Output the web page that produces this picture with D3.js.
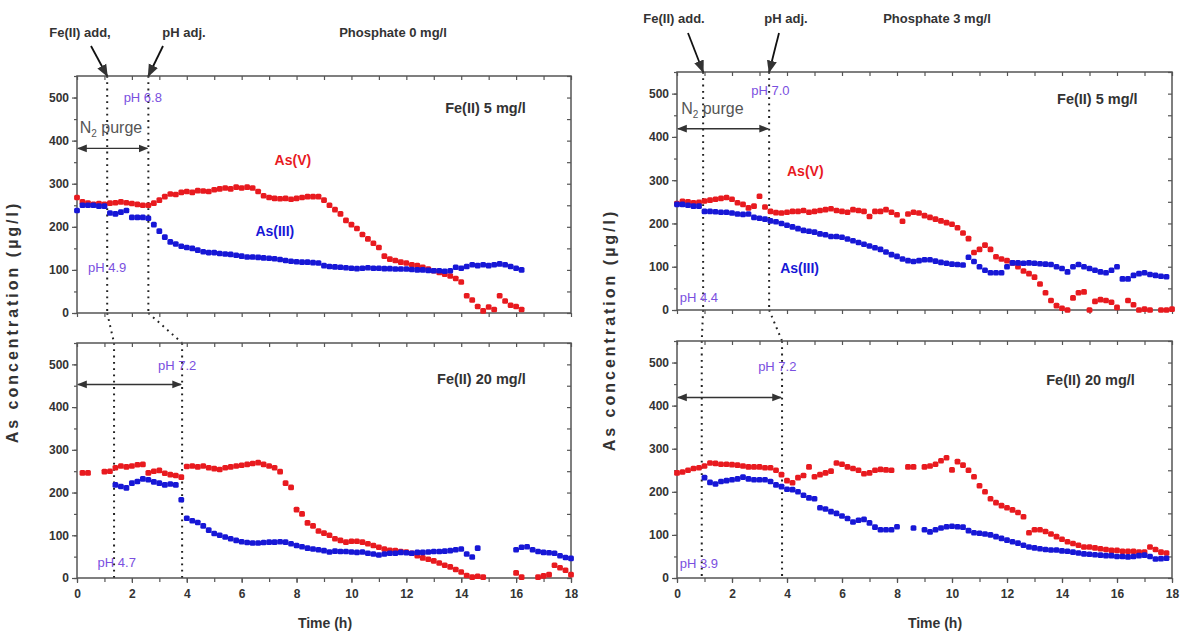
<!DOCTYPE html>
<html>
<head>
<meta charset="utf-8">
<script src="https://cdn.jsdelivr.net/npm/d3@7"></script>
<style>
  body { margin: 0; background: #fff; }
  svg { font-family: "Liberation Sans", Arial, sans-serif; }
  .tick text { font-weight: bold; fill: #333; font-size: 12px; }
  .domain, .tick line { stroke: #555; }
</style>
</head>
<body>
<svg id="chart" width="1187" height="635"></svg>
<script>
// sampling times (h) shared by every series, null = no point
var hours = [0.0,0.2,0.4,0.6,0.8,1.0,1.2,1.4,1.6,1.8,2.0,2.2,2.4,2.6,2.8,3.0,3.2,3.4,3.6,3.8,
  4.0,4.2,4.4,4.6,4.8,5.0,5.2,5.4,5.6,5.8,6.0,6.2,6.4,6.6,6.8,7.0,7.2,7.4,7.6,7.8,
  8.0,8.2,8.4,8.6,8.8,9.0,9.2,9.4,9.6,9.8,10.0,10.2,10.4,10.6,10.8,11.0,11.2,11.4,11.6,11.8,
  12.0,12.2,12.4,12.6,12.8,13.0,13.2,13.4,13.6,13.8,14.0,14.2,14.4,14.6,14.8,15.0,15.2,15.4,15.6,15.8,
  16.0,16.2,16.4,16.6,16.8,17.0,17.2,17.4,17.6,17.8,18.0];

var xTicks = [0,2,4,6,8,10,12,14,16,18];
var yTicks = [0,100,200,300,400,500];

// phosphate 0, Fe(II) 5 mg/l
var p0fe5AsV = [268,258,255,252,254,252,255,256,258,256,254,252,250,250,255,262,270,276,275,280,
  282,280,284,283,282,286,288,290,288,292,290,292,290,282,272,268,266,265,266,264,
  266,268,270,270,270,262,250,240,230,215,205,196,182,172,162,152,132,125,122,118,
  116,112,110,106,102,98,94,90,86,80,72,40,30,15,5,14,8,40,28,18,
  15,8,null,null,null,null,null,null,null,null,null];
var p0fe5AsIII = [238,250,250,250,248,248,232,230,234,238,222,222,222,220,205,190,176,165,160,155,
  152,150,146,142,140,140,138,137,136,134,132,130,130,129,128,127,126,124,122,120,
  119,118,118,117,116,110,108,107,106,105,104,103,104,105,104,104,103,103,102,102,
  102,101,100,100,99,98,98,97,98,106,104,108,112,110,112,110,112,114,112,108,
  104,100,null,null,null,null,null,null,null,null,null];

// phosphate 0, Fe(II) 20 mg/l
var p0fe20AsV = [null,246,246,null,null,249,250,258,262,260,262,265,266,246,250,252,245,242,240,236,
  261,262,260,262,258,256,254,258,260,262,264,266,268,270,266,262,258,249,222,212,
  160,150,129,122,110,105,100,92,88,84,86,86,84,80,76,72,68,65,64,62,
  61,58,52,47,44,40,35,30,26,20,14,6,2,4,2,null,null,null,null,null,
  12,2,null,null,2,5,8,30,24,18,8];
var p0fe20AsIII = [null,null,null,null,null,null,null,218,214,211,222,226,232,230,225,222,218,220,218,183,
  140,134,130,122,112,104,100,96,92,88,85,83,82,82,83,84,84,85,84,80,
  76,73,70,68,66,64,61,63,62,62,61,60,61,58,56,54,56,58,58,60,
  59,58,60,60,61,62,62,63,64,66,68,56,49,70,null,null,null,null,null,null,
  66,72,73,66,62,60,59,58,52,48,46];

// phosphate 3, Fe(II) 5 mg/l
var p3fe5AsV = [246,251,250,248,249,252,254,256,258,260,256,248,244,236,240,263,238,228,225,224,
  226,228,228,230,226,228,230,232,234,230,228,226,232,230,228,216,228,228,232,226,
  220,205,222,226,224,218,214,210,206,202,198,190,178,165,133,140,150,140,123,118,
  114,109,100,90,84,76,60,40,22,10,4,0,28,40,42,0,20,24,22,18,
  6,null,22,12,0,2,0,null,0,0,2];
var p3fe5AsIII = [244,244,242,240,240,228,228,227,226,226,224,222,221,222,214,212,210,206,204,200,
  196,192,188,184,182,180,176,174,170,170,168,164,160,156,152,148,144,140,134,128,
  124,118,114,112,114,116,116,113,110,108,106,105,104,122,112,100,92,86,86,86,
  100,109,109,108,109,108,107,106,105,100,96,88,100,105,100,96,92,88,86,92,
  100,72,72,80,84,86,82,80,78,77,null];

// phosphate 3, Fe(II) 20 mg/l
var p3fe20AsV = [244,246,250,254,256,260,267,266,264,264,263,262,260,258,258,258,256,256,250,240,
  226,221,233,238,258,235,240,244,248,267,264,258,254,250,242,244,250,252,251,250,
  null,null,258,258,null,258,260,264,272,279,251,270,262,250,235,214,200,184,175,168,
  163,158,152,142,105,112,112,108,102,96,90,84,80,76,72,72,70,68,66,64,
  64,62,62,62,60,60,72,66,60,58,null];
var p3fe20AsIII = [null,null,null,null,null,233,222,218,224,226,228,230,234,230,228,228,228,224,216,212,
  206,205,200,192,186,184,163,160,154,150,144,138,130,134,136,128,118,112,112,112,
  119,null,null,116,null,112,107,112,116,119,120,119,118,110,105,104,102,100,96,92,
  88,84,81,76,72,70,68,66,65,65,63,62,60,58,56,55,54,53,52,52,
  50,50,49,50,52,53,50,44,45,46,null];

var red = "#e81a1f", blue = "#1717d6", purple = "#7a4fe0", ink = "#333";

var panels = [
  {x0: 77, x1: 571, y0: 76, y1: 313, asV: p0fe5AsV, asIII: p0fe5AsIII, fe: 1.1, ph: 2.6, purge: 382, bottomLabels: false,
   texts: [["pH 6.8", 1.7, 490, purple, 13, "start"], ["pH 4.9", 0.4, 95, purple, 13, "start"],
           ["Fe(II) 5 mg/l", 16.35, 463, ink, 14.5, "end"], ["As(V)", 7.2, 343, red, 14, "start"],
           ["As(III)", 6.5, 178, blue, 14, "start"]], purgeText: [0.1, 417]},
  {x0: 77, x1: 571, y0: 343, y1: 578, asV: p0fe20AsV, asIII: p0fe20AsIII, fe: 1.35, ph: 3.83, purge: 453, bottomLabels: true,
   texts: [["pH 7.2", 2.95, 486, purple, 13, "start"], ["pH 4.7", 0.75, 26, purple, 13, "start"],
           ["Fe(II) 20 mg/l", 16.35, 453, ink, 14.5, "end"]]},
  {x0: 677, x1: 1172, y0: 72, y1: 310, asV: p3fe5AsV, asIII: p3fe5AsIII, fe: 0.95, ph: 3.35, purge: 419, bottomLabels: false,
   texts: [["pH 7.0", 2.7, 498, purple, 13, "start"], ["pH 4.4", 0.1, 19, purple, 13, "start"],
           ["Fe(II) 5 mg/l", 16.75, 477, ink, 14.5, "end"], ["As(V)", 4.0, 309, red, 14, "start"],
           ["As(III)", 3.75, 86, blue, 14, "start"]], purgeText: [0.15, 453]},
  {x0: 677, x1: 1172, y0: 341, y1: 578, asV: p3fe20AsV, asIII: p3fe20AsIII, fe: 0.9, ph: 3.82, purge: 419, bottomLabels: true,
   texts: [["pH 7.2", 2.95, 481, purple, 13, "start"], ["pH 3.9", 0.1, 23, purple, 13, "start"],
           ["Fe(II) 20 mg/l", 16.65, 449, ink, 14.5, "end"]]}
];

var svg = d3.select("#chart");
var defs = svg.append("defs");
defs.append("marker").attr("id", "head").attr("viewBox", "0 0 10 10").attr("refX", 9).attr("refY", 5)
  .attr("markerWidth", 7).attr("markerHeight", 7).attr("orient", "auto-start-reverse")
  .append("path").attr("d", "M0,1L10,5L0,9z").attr("fill", ink);

panels.forEach(function(p) {
  p.x = d3.scaleLinear().domain([0, 18]).range([p.x0, p.x1]);
  p.y = d3.scaleLinear().domain([0, 550]).range([p.y1, p.y0]);
});

// dotted event lines, running across the gap between the two panels
function dotted(x1, y1, x2, y2) {
  svg.append("line").attr("x1", x1).attr("y1", y1).attr("x2", x2).attr("y2", y2)
    .attr("stroke", "#222").attr("stroke-width", 2).attr("stroke-dasharray", "1.8,4.5");
}
[[panels[0], panels[1]], [panels[2], panels[3]]].forEach(function(pair) {
  var a = pair[0], b = pair[1];
  ["fe", "ph"].forEach(function(k) {
    dotted(a.x(a[k]), a.y0, a.x(a[k]), a.y1);
    dotted(a.x(a[k]), a.y1, b.x(b[k]), b.y0);
    dotted(b.x(b[k]), b.y0, b.x(b[k]), b.y1);
  });
});

panels.forEach(function(p) {
  var g = svg.append("g");
  var xMinor = d3.range(0, 19, 1), yMinor = d3.range(0, 551, 50);

  // frame
  g.append("rect").attr("x", p.x0).attr("y", p.y0).attr("width", p.x1 - p.x0).attr("height", p.y1 - p.y0)
    .attr("fill", "none").attr("stroke", "#555").attr("stroke-width", 1.5);

  g.append("g").attr("transform", "translate(" + p.x0 + ",0)")
    .call(d3.axisLeft(p.y).tickValues(yTicks).tickSize(5).tickPadding(3))
    .call(s => s.select(".domain").remove());
  g.append("g").attr("transform", "translate(" + p.x0 + ",0)")
    .call(d3.axisLeft(p.y).tickValues(yMinor).tickSize(3).tickFormat(""))
    .call(s => s.select(".domain").remove());
  g.append("g").attr("transform", "translate(" + p.x1 + ",0)")
    .call(d3.axisLeft(p.y).tickValues(yMinor).tickSize(4).tickFormat(""))
    .call(s => s.select(".domain").remove());
  g.append("g").attr("transform", "translate(0," + p.y0 + ")")
    .call(d3.axisBottom(p.x).tickValues(xMinor).tickSize(4).tickFormat(""))
    .call(s => s.select(".domain").remove());
  g.append("g").attr("transform", "translate(0," + p.y1 + ")")
    .call(d3.axisBottom(p.x).tickValues(xMinor).tickSize(4).tickFormat(""))
    .call(s => s.select(".domain").remove());
  if (p.bottomLabels) {
    g.append("g").attr("transform", "translate(0," + p.y1 + ")")
      .call(d3.axisBottom(p.x).tickValues(xTicks).tickSize(5).tickPadding(6))
      .call(s => s.select(".domain").remove());
  }
  g.selectAll(".tick line").attr("stroke-width", 1.2);

  // N2 purge arrow
  g.append("line").attr("x1", p.x(0) + 1).attr("x2", p.x(p.ph) - 1)
    .attr("y1", p.y(p.purge)).attr("y2", p.y(p.purge))
    .attr("stroke", ink).attr("stroke-width", 1.4)
    .attr("marker-start", "url(#head)").attr("marker-end", "url(#head)");
  if (p.purgeText) {
    var t = g.append("text").attr("x", p.x(p.purgeText[0])).attr("y", p.y(p.purgeText[1]))
      .attr("fill", "#555").attr("font-size", 16).text("N");
    t.append("tspan").attr("font-size", 10).attr("dy", 4).text("2");
    t.append("tspan").attr("dy", -4).text(" purge");
  }

  // data points
  [[p.asV, red], [p.asIII, blue]].forEach(function(s) {
    var pts = hours.map((h, i) => ({t: h, v: s[0][i]})).filter(d => d.v !== null);
    g.selectAll(null).data(pts).enter().append("rect")
      .attr("x", d => p.x(d.t) - 2.9).attr("y", d => p.y(d.v) - 2.8)
      .attr("width", 5.8).attr("height", 5.6).attr("rx", 1.5)
      .attr("fill", s[1]);
  });

  p.texts.forEach(function(d) {
    g.append("text").attr("x", p.x(d[1])).attr("y", p.y(d[2]))
      .attr("fill", d[3]).attr("font-size", d[4]).attr("text-anchor", d[5])
      .attr("font-weight", d[3] === purple ? "normal" : "bold").text(d[0]);
  });
});

// headers with pointer arrows
function header(txt, x, y) {
  svg.append("text").attr("x", x).attr("y", y).attr("text-anchor", "middle")
    .attr("font-size", 13).attr("font-weight", "bold").attr("fill", ink).text(txt);
}
function pointer(x1, y1, x2, y2) {
  svg.append("line").attr("x1", x1).attr("y1", y1).attr("x2", x2).attr("y2", y2)
    .attr("stroke", "#111").attr("stroke-width", 1.8).attr("marker-end", "url(#head)");
}
var L = panels[0], R = panels[2];
header("Fe(II) add,", 80, 37);
header("pH adj.", 184, 37);
header("Phosphate 0 mg/l", 393, 37);
pointer(91, 46, L.x(L.fe), L.y0);
pointer(163, 46, L.x(L.ph), L.y0);
header("Fe(II) add.", 674, 23);
header("pH adj.", 786, 23);
header("Phosphate 3 mg/l", 937, 23);
pointer(688, 33, R.x(R.fe), R.y0);
pointer(779, 33, R.x(R.ph), R.y0);

// axis titles
[[18, 322], [615, 330]].forEach(function(c) {
  svg.append("text").attr("transform", "translate(" + c[0] + "," + c[1] + ") rotate(-90)")
    .attr("text-anchor", "middle").attr("font-size", 16).attr("font-weight", "bold").attr("fill", ink)
    .attr("letter-spacing", 3).text("As concentration (µg/l)");
});
[325, 935].forEach(function(x) {
  svg.append("text").attr("x", x).attr("y", 628).attr("text-anchor", "middle")
    .attr("font-size", 14).attr("font-weight", "bold").attr("fill", ink).text("Time (h)");
});
</script>
</body>
</html>
